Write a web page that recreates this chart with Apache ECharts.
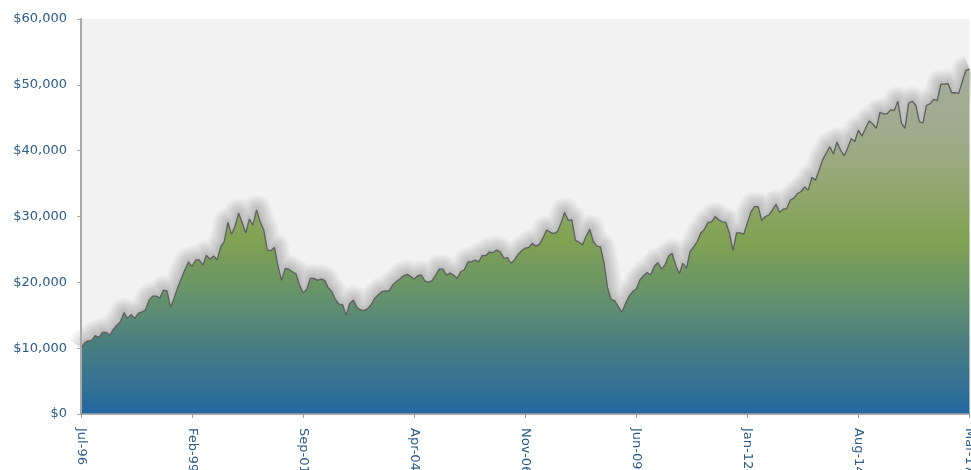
<!DOCTYPE html>
<html>
<head>
<meta charset="utf-8">
<script src="https://cdn.jsdelivr.net/npm/echarts@6/dist/echarts.min.js"></script>
<style>
html,body{margin:0;padding:0;background:#fff;}
#chart{width:971px;height:470px;}
</style>
</head>
<body>
<div id="chart"></div>
<script>
// Monthly series starting Jul-96 (dollars)
const startYear = 1996;
const startMonth = 6; // July (0-based)
const monthNames = ['Jan','Feb','Mar','Apr','May','Jun','Jul','Aug','Sep','Oct','Nov','Dec'];

const values1996_1999 = [10000,10800,11100,11200,11900,11600,12400,12400,12000,12800,13500,14000,
  15400,14500,15100,14500,15300,15500,15800,17300,17900,17900,17600,18800,
  18700,16200,17600,19200,20600,21900,23100,22400,23400,23400,22600,24100];
const values1999_2002 = [23500,24000,23400,25400,26200,29100,27300,28500,30500,29000,27500,29600,
  28700,31000,29200,28000,24900,24800,25300,22400,20300,22100,22000,21600,
  21300,19600,18400,18900,20600,20600,20300,20500,20300,19200,18600,17400];
const values2002_2005 = [16700,16600,15000,16800,17300,16200,15800,15700,16000,16600,17600,18100,
  18600,18700,18700,19600,20100,20500,21000,21200,20900,20500,21000,21100,
  20200,20000,20250,21100,22000,22000,21100,21400,21100,20600,21600,21900];
const values2005_2008 = [23100,23100,23400,23100,24050,24050,24600,24500,24900,24650,23650,23750,
  22900,23400,24250,24800,25200,25300,25900,25500,25800,26800,27950,27600,
  27400,27700,29000,30600,29400,29500,26400,26100,25700,27000,28050,26200];
const values2008_2011 = [25500,25400,22900,19100,17400,17200,16300,15450,16800,17900,18600,19000,
  20350,20960,21500,21100,22400,23000,22000,22600,24000,24400,22600,21300,
  22900,22100,24650,25400,26200,27500,28050,29100,29200,30000,29500,29200];
const values2011_2014 = [29100,27450,24800,27500,27500,27300,29000,30700,31500,31500,29400,30000,
  30200,31000,31850,30600,31100,31200,32500,32800,33500,33800,34500,34000,
  35950,35500,37000,38600,39600,40600,39500,41300,40100,39200,40400,41800];
const values2014_2017 = [41400,43100,42200,43400,44500,44050,43400,45800,45600,45600,46200,46100,
  47500,44200,43400,47200,47500,46900,44400,44200,46900,47100,47800,47600,
  50100,50100,50200,48800,48800,48700,50500,52200,52400];

const values = [].concat(values1996_1999, values1999_2002, values2002_2005, values2005_2008,
  values2008_2011, values2011_2014, values2014_2017);

const categories = values.map((v, i) => {
  const m = (startMonth + i) % 12;
  const y = startYear + Math.floor((startMonth + i) / 12);
  return monthNames[m] + '-' + String(y % 100).padStart(2, '0');
});

const yTicks = { min: 0, max: 60000, interval: 10000 };
const labelColor = '#2b5c8a';
const fontFamily = 'DejaVu Sans';

// soft gray haze drawn beneath the area (styling only): stroke widths of stacked layers
const hazeWidths = [30, 27, 24, 21, 18, 15, 12, 9, 6, 3];

const hazeSeries = hazeWidths.map(w => ({
  type: 'line',
  data: values,
  symbol: 'none',
  silent: true,
  z: 1,
  lineStyle: { color: 'rgba(0,0,0,0.024)', width: w, join: 'round', cap: 'butt' }
}));

const chart = echarts.init(document.getElementById('chart'), null, {renderer: 'canvas'});
chart.setOption({
  animation: false,
  grid: {
    left: 81, right: 1.5, top: 19, bottom: 56,
    outerBoundsMode: 'none',
    containLabel: false,
    show: true, backgroundColor: '#f2f2f2', borderWidth: 0
  },
  xAxis: {
    type: 'category',
    data: categories,
    boundaryGap: false,
    axisLine: { show: true, lineStyle: { color: '#9a9a9a', width: 1.5 } },
    axisTick: { show: true, interval: 30, length: 4, lineStyle: { color: '#9a9a9a' } },
    axisLabel: {
      interval: 30, rotate: -90, margin: 14, hideOverlap: false,
      color: labelColor, fontFamily: fontFamily, fontSize: 13
    },
    splitLine: { show: false },
    z: 5
  },
  yAxis: {
    type: 'value',
    min: yTicks.min, max: yTicks.max, interval: yTicks.interval,
    axisLine: { show: true, lineStyle: { color: '#a8a8a8', width: 2 } },
    axisTick: { show: true, length: 4, lineStyle: { color: '#a8a8a8' } },
    axisLabel: {
      margin: 14, color: labelColor, fontFamily: fontFamily, fontSize: 13,
      formatter: v => '$' + v.toLocaleString('en-US')
    },
    splitLine: { show: false },
    z: 5
  },
  series: hazeSeries.concat([{
    type: 'line',
    data: values,
    symbol: 'none',
    smooth: false,
    z: 3,
    lineStyle: { color: '#5f5f5f', width: 1.3 },
    areaStyle: {
      opacity: 1,
      color: {
        type: 'linear', x: 0, y: 19, x2: 0, y2: 414, global: true,
        colorStops: [
          { offset: 0.0, color: '#adb0a6' },
          { offset: 0.15, color: '#a6ab98' },
          { offset: 0.30, color: '#9faa8a' },
          { offset: 0.43, color: '#93a770' },
          { offset: 0.56, color: '#80a252' },
          { offset: 0.69, color: '#68946a' },
          { offset: 0.82, color: '#4a7f80' },
          { offset: 1.0, color: '#2467a0' }
        ]
      }
    }
  }])
});
</script>
</body>
</html>
